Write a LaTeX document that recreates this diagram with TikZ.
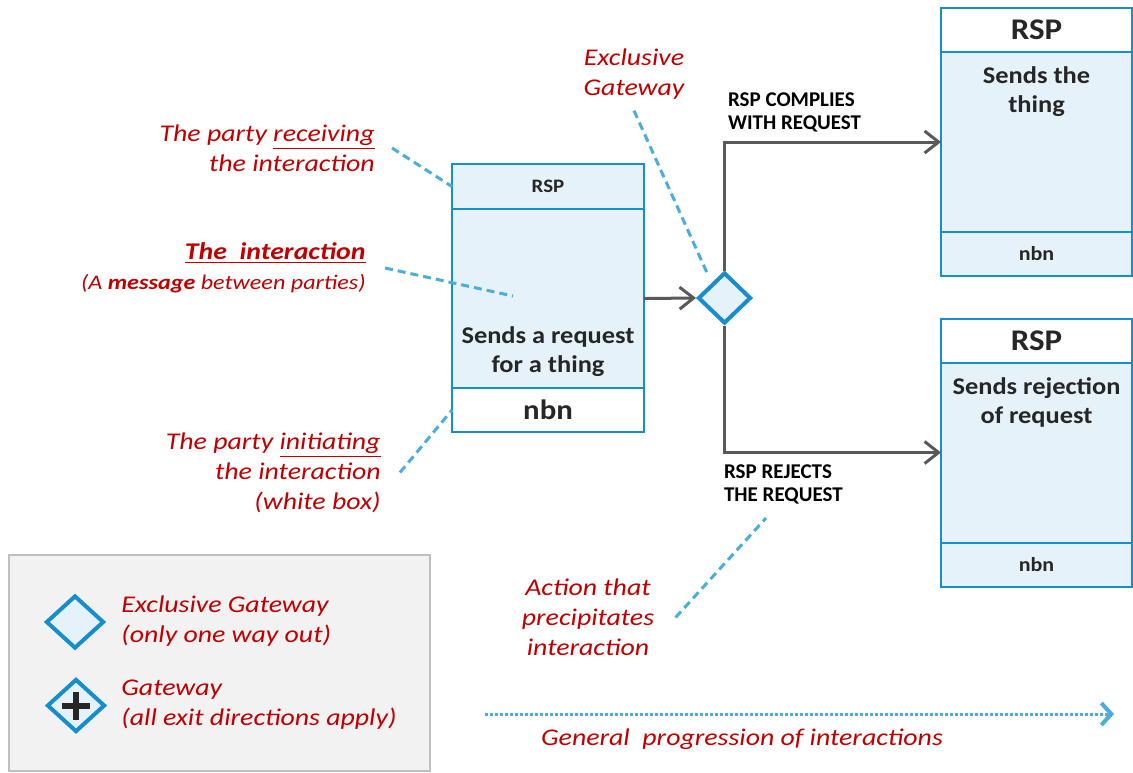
\documentclass[tikz,border=0pt]{standalone}
\usepackage{fontspec}
\setmainfont{Carlito}[FakeStretch=1.1]
\newfontfamily\notefont{Carlito}[FakeStretch=1.16]
\newfontfamily\capsfont{Carlito}
\usepackage{xcolor}
\usepackage{tikz}
\usetikzlibrary{positioning,shapes.geometric,arrows.meta}
\definecolor{boxblue}{HTML}{168DCC}
\definecolor{paleblue}{HTML}{E6F2FA}
\definecolor{leadblue}{HTML}{4AADDB}
\definecolor{notered}{HTML}{C00000}
\definecolor{flowgray}{HTML}{595959}
\definecolor{txtdark}{HTML}{262626}
\definecolor{legfill}{HTML}{F2F2F2}
\definecolor{legline}{HTML}{BFBFBF}

\begin{document}
\begin{tikzpicture}[x=0.5pt,y=-0.5pt,
  cell/.style={draw=boxblue,line width=1pt,fill=paleblue,minimum width=96pt,
    inner sep=0pt,outer sep=0pt,text=txtdark,font=\bfseries},
  boxtxt/.style={align=center,text=txtdark,font=\bfseries\fontsize{12}{14.5}\selectfont},
  gate/.style={diamond,draw=boxblue,line width=2pt,fill=paleblue,inner sep=0pt,
    minimum width=26.5pt,minimum height=25.5pt},
  flow/.style={draw=flowgray,line width=1.5pt,-{Straight Barb[length=7pt,width=11pt]}},
  caps/.style={align=left,text=black,font=\capsfont\bfseries\fontsize{10.5}{11.5}\selectfont},
  note/.style={text=notered,inner sep=1.5pt,font=\notefont\itshape\fontsize{12}{15}\selectfont},
  lead/.style={draw=leadblue,line width=1.5pt,dash pattern=on 4pt off 2.5pt},
  progress/.style={draw=leadblue,line width=1.5pt,dash pattern=on 1.5pt off 1pt,
    -{Straight Barb[length=5pt,width=11pt,line width=2pt]}}]
  \useasboundingbox (0,0) rectangle (1133,772);

  \node[cell,minimum height=22.5pt,font=\bfseries\fontsize{9.5}{11}\selectfont] (rspL) at (548,186.5) {RSP};
  \node[cell,minimum height=89.5pt,below=0pt of rspL] (reqL) {};
  \node[cell,minimum height=22pt,fill=white,below=0pt of reqL,font=\bfseries\fontsize{14}{16}\selectfont] (nbnL) {nbn};
  \node[boxtxt] (reqtxt) at (548,351.5) {Sends a request\\for a thing};

  \foreach \n/\y/\t in {comply/30/{Sends the\\thing},reject/340.5/{Sends rejection\\of request}} {
    \node[cell,fill=white,minimum width=95.5pt,minimum height=22pt,font=\bfseries\fontsize{15}{17}\selectfont] (\n-hd) at (1036.5,\y) {RSP};
    \node[cell,minimum width=95.5pt,minimum height=90pt,below=0pt of \n-hd] (\n-bd) {};
    \node[cell,minimum width=95.5pt,minimum height=22pt,below=0pt of \n-bd,font=\bfseries\fontsize{10}{12}\selectfont] (\n-ft) {nbn};
    \node[boxtxt] (\n-txt) at ([yshift=-20pt]\n-bd.north) {\t};
  }

  \node[gate] (gw) at (724.5,298) {};
  \draw[flow] (reqL.east) -- (gw.west);
  \draw[flow] (gw.north) |- (comply-bd.west);
  \draw[flow] (gw.south) |- (reject-bd.west);
  \node[caps,anchor=west] (complbl) at (721,112.5) {RSP COMPLIES\\WITH REQUEST};
  \node[caps,anchor=west] (rejlbl) at (717,484.5) {RSP REJECTS\\THE REQUEST};

  \node[note,anchor=east,align=right] (recvlbl) at (378,148) {The party \underline{receiving}\\the interaction};
  \node[note,anchor=east,align=right] (interlbl) at (369,268) {\textbf{\underline{The\ \ interaction}}\\{\fontsize{10.4}{12}\selectfont(A \textbf{message} between parties)}};
  \node[note,anchor=east,align=right] (initlbl) at (384,472.5) {The party \underline{initiating}\\the interaction\\(white box)};
  \node[note,align=center] (gwlbl) at (634,74) {Exclusive\\Gateway};
  \node[note,align=center] (actlbl) at (588,617.5) {Action that\\precipitates\\interaction};
  \node[note] (proglbl) at (742,739) {General\ \ progression of interactions};

  \coordinate (interpt) at (513,296);
  \coordinate (gwpt) at (708,275);
  \coordinate (rejpt) at (766,518);
  \draw[lead] ([xshift=7pt]recvlbl.east) -- (rspL.west);
  \draw[lead] ([xshift=8pt]interlbl.east) -- (interpt);
  \draw[lead] ([xshift=8pt]initlbl.east) -- (nbnL.west);
  \draw[lead] ([yshift=-4pt]gwlbl.south) -- (gwpt);
  \draw[lead] ([xshift=9pt]actlbl.east) -- (rejpt);

  \coordinate (progA) at (485,714);
  \coordinate (progB) at (1114,714);
  \draw[progress] (progA) -- (progB);

  \node[draw=legline,fill=legfill,line width=0.6pt,minimum width=210.5pt,minimum height=108pt,inner sep=0pt] (legend) at (219.5,663) {};
  \node[gate,minimum width=29pt,minimum height=26.5pt] (legxor) at (75,622) {};
  \node[gate,minimum width=29pt,minimum height=26.5pt] (legpar) at (76,705.5) {};
  \draw[txtdark,line width=3pt] ([xshift=-7pt]legpar.center) -- ([xshift=7pt]legpar.center)
    ([yshift=-7pt]legpar.center) -- ([yshift=7pt]legpar.center);
  \node[note,anchor=west,align=left] (legxortxt) at (118,621.5) {Exclusive Gateway\\(only one way out)};
  \node[note,anchor=west,align=left] (legpartxt) at (118,705) {Gateway\\(all exit directions apply)};
\end{tikzpicture}
\end{document}
